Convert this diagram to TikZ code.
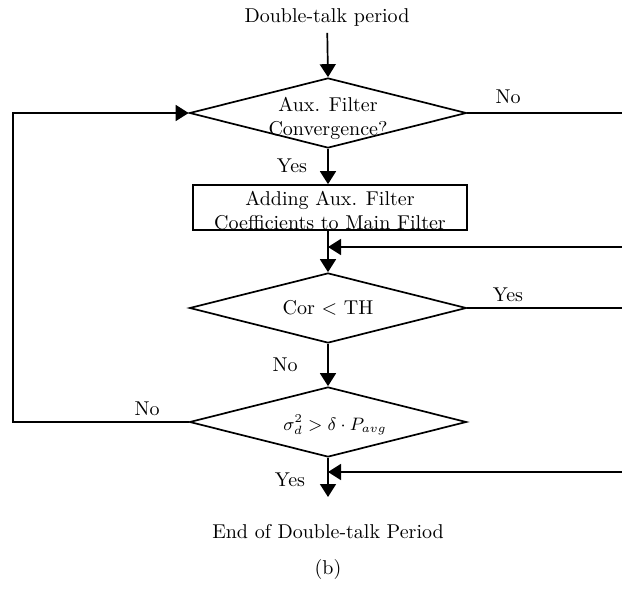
\documentclass[tikz,border=0pt]{standalone}
\usepackage{tikz}
\usetikzlibrary{shapes.geometric,arrows.meta}
\tikzset{
	decision/.style={draw,diamond,line width=0.85pt,minimum width=138.5pt,minimum height=35pt,inner sep=0pt},
	process/.style={draw,rectangle,line width=0.85pt,minimum width=137pt,minimum height=22.5pt,inner sep=0pt},
	flow/.style={line width=0.85pt,-{Triangle[length=6.5pt,width=8pt]}},
	wire/.style={line width=0.85pt},
}

\begin{document}
\begin{tikzpicture}[x=0.5pt,y=-0.5pt]
			\useasboundingbox (0,0) rectangle (622,589);						% page frame
			\node (start) at (327,17) {Double-talk period};						% entry
			\node[decision] (conv) at (328,113) {};							% first test
			\node[align=center] (convtxt) at (328,118) {Aux. Filter\\Convergence?};
			\node[process] (add) at (330,207.5) {};							% update block
			\node[align=center,inner sep=0pt] (addtxt) at (330,211) {Adding Aux. Filter\\Coefficients to Main Filter};
			\node[decision] (cor) at (328,308) {};							% second test
			\node (cortxt) at (328,308) {Cor \textless{} TH};
			\node[decision] (sig) at (328,422) {};							% third test
			\node[font=\small,inner sep=1pt] (sigtxt) at (335,425) {$\sigma^{2}_{d} > \delta\cdot P_{avg}$};
			\node (stoptxt) at (328,532) {End of Double-talk Period};				% exit
			\node (cap) at (328,569) {(b)};								% caption
			\coordinate (r1) at (622,113);								% right edge ends
			\coordinate (r2) at (622,247);
			\coordinate (r3) at (622,308);
			\coordinate (r4) at (622,472);
			\coordinate (j1) at (328,247);								% joins on the spine
			\coordinate (j2) at (328,472);
			\coordinate (lb) at (13,422);								% left loop corner
			\coordinate (stop) at (328,497);
			\draw [flow] (start) -- (conv.north);							% spine
			\draw [flow] (conv.south) -- (add.north -| conv.south);
			\draw [flow] (add.south -| cor.north) -- (cor.north);
			\draw [flow] (cor.south) -- (sig.north);
			\draw [flow] (sig.south) -- (stop);
			\draw [wire] (conv.east) -- (r1);								% branches to the right
			\draw [wire] (cor.east) -- (r3);
			\draw [flow] (r2) -- (j1);									% returns from the right
			\draw [flow] (r4) -- (j2);
			\draw [flow] (sig.west) -- (lb) |- (conv.west);					% loop back
			\node (no1) at (508,97) {No};								% branch labels
			\node (yes1) at (292,166) {Yes};
			\node (yes2) at (508,295) {Yes};
			\node (no2) at (285,365) {No};
			\node (no3) at (147,409) {No};
			\node (yes3) at (290,480) {Yes};
		\end{tikzpicture}
\end{document}
